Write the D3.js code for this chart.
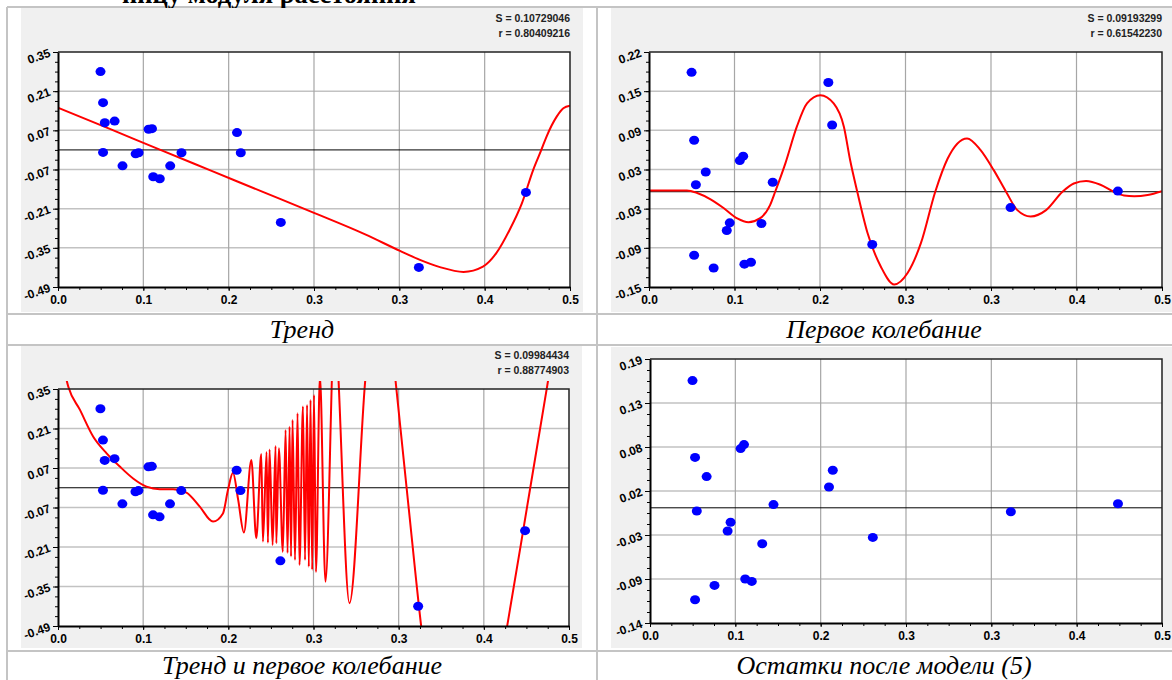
<!DOCTYPE html>
<html>
<head>
<meta charset="utf-8">
<script src="https://cdn.jsdelivr.net/npm/d3@7"></script>
<style>
  html, body { margin: 0; padding: 0; background: #ffffff; }
  svg { display: block; }
</style>
</head>
<body>
<svg id="chart" width="1172" height="680"></svg>
<script>
// ---- data -------------------------------------------------------------
// argument (distance modulus) of each observation
const xValues = [0.0415, 0.044, 0.044, 0.0457, 0.0553, 0.063, 0.0758, 0.0787, 0.0885, 0.0918,
                 0.093, 0.0994, 0.1096, 0.1206, 0.1748, 0.1785, 0.2176, 0.3524, 0.457];
// observed values
const observed = [0.280, 0.169, -0.009, 0.097, 0.103, -0.057, -0.014, -0.010, 0.074, 0.076,
                  -0.096, -0.103, -0.057, -0.010, 0.062, -0.010, -0.259, -0.420, -0.152];
// values after the trend is removed
const afterTrend = [0.188, 0.081, -0.100, 0.011, 0.031, -0.120, -0.061, -0.049, 0.049, 0.056,
                    -0.114, -0.111, -0.050, 0.015, 0.172, 0.105, -0.083, -0.025, 0.001];
// residuals after model (5)
const residuals = [0.159, 0.063, -0.115, -0.004, 0.039, -0.097, -0.029, -0.018, 0.074, 0.079,
                   -0.089, -0.092, -0.045, 0.004, 0.026, 0.047, -0.037, -0.005, 0.005];

// trend curve
const trendX = [0, 0.05, 0.1, 0.15, 0.2, 0.25, 0.3, 0.334, 0.3535, 0.373, 0.396, 0.415, 0.428,
                0.441, 0.453, 0.464, 0.472, 0.477, 0.487, 0.4935, 0.5];
const trendY = [0.151, 0.076, 0.000, -0.075, -0.150, -0.225, -0.302, -0.361, -0.393, -0.419, -0.436,
                -0.417, -0.369, -0.286, -0.191, -0.072, 0.000, 0.047, 0.119, 0.149, 0.158];

// first oscillation
const waveX = [0, 0.037, 0.047, 0.06, 0.073, 0.086, 0.097, 0.108, 0.118, 0.123, 0.133, 0.144, 0.154,
               0.167, 0.18, 0.19, 0.196, 0.203, 0.213, 0.226, 0.239, 0.252, 0.265, 0.279, 0.291,
               0.31, 0.323, 0.336, 0.348, 0.359, 0.372, 0.387, 0.403, 0.414, 0.426, 0.44, 0.453,
               0.463, 0.473, 0.486, 0.5];
const waveY = [0.002, 0.002, -0.002, -0.012, -0.026, -0.042, -0.048, -0.042, -0.021, 0.0, 0.045,
               0.102, 0.139, 0.152, 0.139, 0.102, 0.050, 0.0, -0.065, -0.118, -0.146, -0.128,
               -0.081, 0.0, 0.052, 0.084, 0.066, 0.034, 0.0, -0.029, -0.039, -0.029, 0.0, 0.013,
               0.017, 0.011, 0.0, -0.006, -0.007, -0.005, 0.001];

// trend plus first oscillation
const fitX = [0.0039, 0.0101, 0.0215, 0.0345, 0.0476, 0.0605, 0.0735, 0.0866, 0.0996, 0.1126,
              0.1257, 0.1387, 0.1517, 0.1614, 0.1663, 0.1712, 0.1763, 0.1819,
              0.1892, 0.1940, 0.1989, 0.2005, 0.2041, 0.2054, 0.2070, 0.2100, 0.2129, 0.2136,
              0.2161, 0.2200, 0.2227, 0.2246, 0.2266, 0.2280, 0.2295, 0.2319, 0.2344, 0.2363,
              0.2397, 0.2417, 0.2437, 0.2454, 0.2471, 0.2487, 0.2505, 0.2524, 0.2563, 0.2617,
              0.2705, 0.2852, 0.3005, 0.3154, 0.3308, 0.3429, 0.3552, 0.3975, 0.4397, 0.4593,
              0.4788, 0.499];
const fitY = [0.453, 0.358, 0.276, 0.181, 0.122, 0.075, 0.033, 0.004, -0.005, -0.005,
              -0.017, -0.067, -0.120, -0.091, -0.008, 0.053, -0.043, -0.159,
              0.098, -0.179, 0.120, -0.191, 0.127, -0.195, 0.136, -0.203, 0.148, -0.197,
              0.140, -0.227, 0.205, -0.231, 0.216, -0.244, 0.240, -0.256, 0.264, -0.274,
              0.288, -0.256, 0.293, -0.280, 0.311, -0.291, 0.329, -0.299, 0.396, -0.333,
              0.559, -0.409, 0.375, 0.900, 0.361, -0.063, -0.486, -1.300, -0.486, -0.061,
              0.364, 0.810];

// axis labels
const xTickLabels = ["0.0", "0.1", "0.2", "0.3", "0.3", "0.4", "0.5"];
const yLabelsTrend = ["0.35", "0.21", "0.07", "-0.07", "-0.21", "-0.35", "-0.49"];
const yLabelsWave = ["0.22", "0.15", "0.09", "0.03", "-0.03", "-0.09", "-0.15"];
const yLabelsResid = ["0.19", "0.13", "0.08", "0.02", "-0.03", "-0.09", "-0.14"];

// fit statistics
const statsTrend = ["S = 0.10729046", "r = 0.80409216"];
const statsWave = ["S = 0.09193299", "r = 0.61542230"];
const statsFit = ["S = 0.09984434", "r = 0.88774903"];

const captions = ["Тренд", "Первое колебание", "Тренд и первое колебание", "Остатки после модели (5)"];
const headerText = "ницу модуля расстояния";

// ---- drawing -----------------------------------------------------------
const svg = d3.select("#chart");
const sans = "'Liberation Sans', Arial, sans-serif";
const serif = "'Liberation Serif', 'Times New Roman', serif";

// table grid around the figures
const border = "#c4c4c4";
[[7, 7, 1172, 7], [7, 314, 1172, 314], [7, 345, 1172, 345], [7, 651, 1172, 651],
 [7, 7, 7, 680], [597, 7, 597, 680]].forEach(([x1, y1, x2, y2]) => {
  svg.append("line").attr("x1", x1).attr("y1", y1).attr("x2", x2).attr("y2", y2)
    .attr("stroke", border).attr("stroke-width", 2);
});

// header line of the surrounding text (runs past the top edge)
svg.append("text").attr("x", 122).attr("y", 3)
  .attr("font-family", serif).attr("font-weight", "bold").attr("font-size", 26.5)
  .text(headerText);

// captions under the figures
const capPos = [[302, 338], [884, 338], [302, 674], [884, 674]];
captions.forEach((c, i) => {
  svg.append("text").attr("x", capPos[i][0]).attr("y", capPos[i][1])
    .attr("text-anchor", "middle").attr("font-family", serif)
    .attr("font-style", "italic").attr("font-size", 26).text(c);
});

let clipId = 0;
function drawPanel(p) {
  const g = svg.append("g");
  g.append("rect").attr("x", p.bg[0]).attr("y", p.bg[1]).attr("width", p.bg[2]).attr("height", p.bg[3])
    .attr("fill", "#f0f0f0");

  const x = d3.scaleLinear().domain([0, 0.5]).range([p.l, p.r]);
  const y = d3.scaleLinear().domain(p.yDomain).range([p.b, p.t]);

  g.append("rect").attr("x", p.l).attr("y", p.t).attr("width", p.r - p.l).attr("height", p.b - p.t)
    .attr("fill", "#ffffff");

  const yStep = (p.yDomain[1] - p.yDomain[0]) / 6;
  const yTicks = d3.range(7).map(i => p.yDomain[1] - i * yStep);
  const xTicks = d3.range(7).map(i => i * 0.5 / 6);
  const yMinor = d3.range(25).map(i => p.yDomain[0] + i * yStep / 4);
  const xMinor = d3.range(25).map(i => i * 0.5 / 24);

  // grid
  g.selectAll(null).data(yTicks.slice(1, 6)).join("line")
    .attr("x1", p.l).attr("x2", p.r).attr("y1", d => y(d)).attr("y2", d => y(d))
    .attr("stroke", "#c2c2c2").attr("stroke-width", 1.5);
  g.selectAll(null).data(xTicks.slice(1, 6)).join("line")
    .attr("y1", p.t).attr("y2", p.b).attr("x1", d => x(d)).attr("x2", d => x(d))
    .attr("stroke", "#a6a6a6").attr("stroke-width", 1.2);

  // zero line
  g.append("line").attr("x1", p.l).attr("x2", p.r).attr("y1", y(0)).attr("y2", y(0))
    .attr("stroke", "#000").attr("stroke-width", 1);

  // model curve
  if (p.curveX) {
    const id = "clip" + (clipId++);
    svg.append("clipPath").attr("id", id).append("rect")
      .attr("x", p.l).attr("y", p.t - 8).attr("width", p.r - p.l).attr("height", p.b - p.t + 8);
    const line = d3.line().x(d => x(d[0])).y(d => y(d[1])).curve(d3.curveMonotoneX);
    g.append("path").attr("clip-path", `url(#${id})`)
      .attr("d", line(p.curveX.map((v, i) => [v, p.curveY[i]])))
      .attr("fill", "none").attr("stroke", "#ff0000").attr("stroke-width", 2)
      .attr("stroke-linejoin", "round");
  }

  // observations
  g.selectAll(null).data(p.points).join("ellipse")
    .attr("cx", (d, i) => x(xValues[i])).attr("cy", d => y(d))
    .attr("rx", 5).attr("ry", 4.5).attr("fill", "#0000ff");

  // frame
  g.append("path").attr("d", `M${p.l},${p.t}H${p.r}V${p.b}`)
    .attr("fill", "none").attr("stroke", "#222").attr("stroke-width", 1.5);

  // axes
  const font = a => a.attr("font-family", sans).attr("font-weight", "bold").attr("font-size", 12);
  const yAxis = g.append("g").attr("transform", `translate(${p.l},0)`)
    .call(d3.axisLeft(y).tickValues(yTicks).tickFormat((d, i) => p.yLabels[i])
      .tickSize(5).tickSizeOuter(0).tickPadding(3));
  yAxis.call(font);
  yAxis.selectAll("text").attr("fill", "#000").attr("transform", "rotate(-20,-8,0)");
  g.append("g").attr("transform", `translate(${p.l},0)`)
    .call(d3.axisLeft(y).tickValues(yMinor).tickFormat("").tickSize(3).tickSizeOuter(0))
    .select(".domain").remove();

  const xAxis = g.append("g").attr("transform", `translate(0,${p.b})`)
    .call(d3.axisBottom(x).tickValues(xTicks).tickFormat((d, i) => xTickLabels[i])
      .tickSize(4).tickSizeOuter(0).tickPadding(4));
  xAxis.call(font);
  xAxis.selectAll("text").attr("fill", "#000");
  g.append("g").attr("transform", `translate(0,${p.b})`)
    .call(d3.axisBottom(x).tickValues(xMinor).tickFormat("").tickSize(3).tickSizeOuter(0))
    .select(".domain").remove();
  g.selectAll(".domain").attr("stroke", "#000").attr("stroke-width", 2);
  g.selectAll(".tick line").attr("stroke", "#000").attr("stroke-width", 1);

  // statistics
  if (p.stats) {
    p.stats.forEach((s, i) => {
      g.append("text").attr("x", p.r).attr("y", p.t - 30 + i * 14.5)
        .attr("text-anchor", "end").attr("font-family", sans).attr("font-weight", "bold")
        .attr("font-size", 10.5).attr("fill", "#222").text(s);
    });
  }
}

drawPanel({ bg: [21, 8, 562, 304], l: 58, t: 52, r: 570, b: 287, yDomain: [-0.49, 0.35],
  yLabels: yLabelsTrend, points: observed, curveX: trendX, curveY: trendY, stats: statsTrend });
drawPanel({ bg: [611, 8, 562, 304], l: 649, t: 52, r: 1162, b: 287, yDomain: [-0.15, 0.22],
  yLabels: yLabelsWave, points: afterTrend, curveX: waveX, curveY: waveY, stats: statsWave });
drawPanel({ bg: [21, 346, 561, 302], l: 58, t: 389, r: 569, b: 626, yDomain: [-0.49, 0.35],
  yLabels: yLabelsTrend, points: observed, curveX: fitX, curveY: fitY, stats: statsFit });
drawPanel({ bg: [611, 347, 562, 301], l: 650, t: 359, r: 1162, b: 623, yDomain: [-0.144, 0.186],
  yLabels: yLabelsResid, points: residuals });
</script>
</body>
</html>
